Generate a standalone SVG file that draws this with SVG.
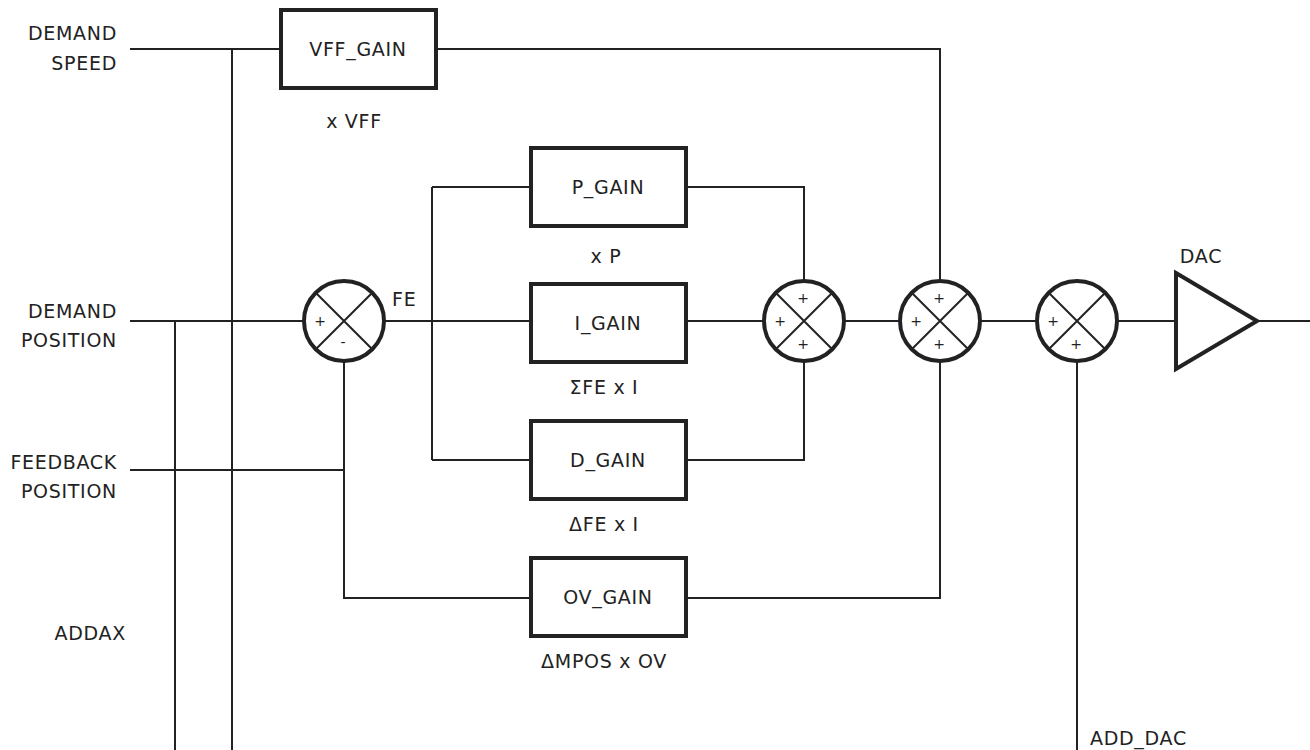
<svg xmlns="http://www.w3.org/2000/svg" width="1310" height="750" viewBox="0 0 1310 750">
<style>
.w{fill:none;stroke:#222;stroke-width:2}
.box{fill:#fff;stroke:#222;stroke-width:4}
.sum{fill:#fff;stroke:#222;stroke-width:4}
.x{stroke:#222;stroke-width:2}
text{font-family:"DejaVu Sans","Liberation Sans",sans-serif;fill:#222;font-size:19px;letter-spacing:0.7px}
.c{text-anchor:middle}
.r{text-anchor:end}
.s{font-size:14px;text-anchor:middle;letter-spacing:0}
</style>
<rect width="1310" height="750" fill="#fff"/>
<g id="connectors">
<path class="w" d="M130 49H281M436 49H940V281"/>
<path class="w" d="M232 49V750"/>
<path class="w" d="M130 321H304M384 321H530M432 187V460M432 187H530M432 460H530"/>
<path class="w" d="M175 321V750"/>
<path class="w" d="M686 187H804V281M686 460H804V361M686 321H764"/>
<path class="w" d="M130 470H344M344 361V598H530M686 598H940V361"/>
<path class="w" d="M844 321H900M980 321H1037M1117 321H1175M1258 321H1310"/>
<path class="w" d="M1077 361V750"/>
</g>
<g id="labels">
<text class="r" x="117" y="40">DEMAND</text>
<text class="r" x="117" y="70">SPEED</text>
<text class="r" x="117" y="318">DEMAND</text>
<text class="r" x="117" y="347">POSITION</text>
<text class="r" x="117" y="469">FEEDBACK</text>
<text class="r" x="117" y="498">POSITION</text>
<text class="r" x="126" y="640">ADDAX</text>
<text x="1090" y="745">ADD_DAC</text>
<text x="392" y="306">FE</text>
</g>
<g id="vff"><rect class="box" x="281" y="10" width="155" height="78"/><text class="c" x="358" y="56">VFF_GAIN</text><text class="c" x="354" y="128">x VFF</text></g>
<g id="p"><rect class="box" x="531" y="148" width="155" height="78"/><text class="c" x="608" y="194">P_GAIN</text><text class="c" x="606" y="263">x P</text></g>
<g id="i"><rect class="box" x="531" y="284" width="155" height="78"/><text class="c" x="608" y="330">I_GAIN</text><text class="c" x="604" y="394">ΣFE x I</text></g>
<g id="d"><rect class="box" x="531" y="421" width="155" height="78"/><text class="c" x="608" y="467">D_GAIN</text><text class="c" x="604" y="531">ΔFE x I</text></g>
<g id="ov"><rect class="box" x="531" y="558" width="155" height="78"/><text class="c" x="608" y="604">OV_GAIN</text><text class="c" x="604" y="668">ΔMPOS x OV</text></g>
<g id="sum1"><circle class="sum" cx="344" cy="321" r="40"/><path class="x" d="M316 293L372 349M372 293L316 349"/><text class="s" x="320" y="326">+</text><text class="s" x="343" y="347">-</text></g>
<g id="sum2"><circle class="sum" cx="804" cy="321" r="40"/><path class="x" d="M776 293L832 349M832 293L776 349"/><text class="s" x="803" y="303">+</text><text class="s" x="780" y="326">+</text><text class="s" x="803" y="349">+</text></g>
<g id="sum3"><circle class="sum" cx="940" cy="321" r="40"/><path class="x" d="M912 293L968 349M968 293L912 349"/><text class="s" x="939" y="303">+</text><text class="s" x="916" y="326">+</text><text class="s" x="939" y="349">+</text></g>
<g id="sum4"><circle class="sum" cx="1077" cy="321" r="40"/><path class="x" d="M1049 293L1105 349M1105 293L1049 349"/><text class="s" x="1053" y="326">+</text><text class="s" x="1076" y="349">+</text></g>
<g id="dac"><path d="M1176 273L1257 321L1176 369Z" fill="#fff" stroke="#222" stroke-width="4"/><text class="c" x="1201" y="263">DAC</text></g>
</svg>
